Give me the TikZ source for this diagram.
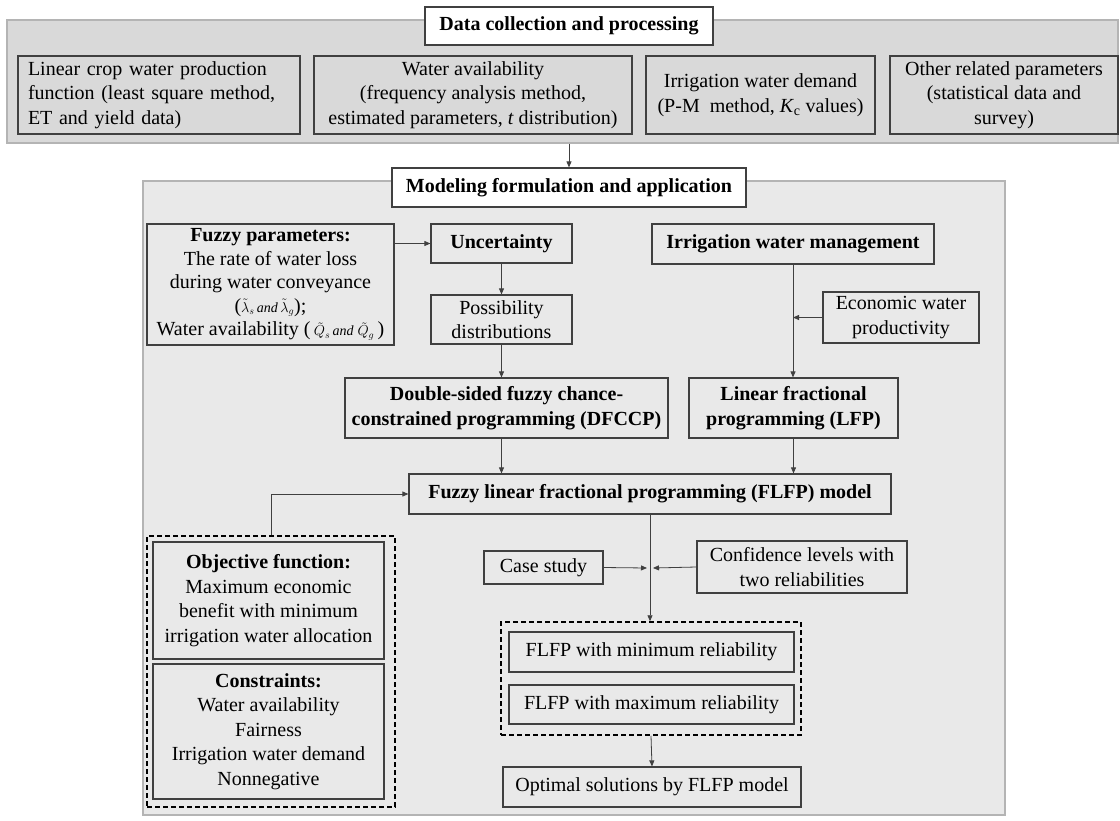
\documentclass[tikz,border=0pt]{standalone}
\usepackage{fontspec}
\setmainfont{Liberation Serif}
\usetikzlibrary{arrows.meta}
\definecolor{edge}{HTML}{404040}
\definecolor{rim}{HTML}{B4B4B4}
\definecolor{paneltop}{HTML}{D9D9D9}
\definecolor{panelbot}{HTML}{E9E9E9}
\begin{document}
\begin{tikzpicture}[x=1pt,y=-1pt,
    font=\fontsize{20}{24.5}\selectfont,
    box/.style 2 args={draw=edge,line width=1.2pt,minimum width=#1pt,minimum height=#2pt,inner sep=0pt,align=center},
    head/.style={font=\fontsize{20}{24.5}\selectfont\bfseries},
    grp/.style 2 args={draw=black,line width=1.5pt,dash pattern=on 5pt off 3pt,minimum width=#1pt,minimum height=#2pt,inner sep=0pt},
    panel/.style 2 args={draw=rim,line width=1.5pt,minimum width=#1pt,minimum height=#2pt,inner sep=0pt},
    arr/.style={-{Triangle[length=6pt,width=5pt]},draw=edge,line width=0.8pt}]
    \useasboundingbox (0,0) rectangle (1120,820);
    % panels
    \node[panel={1111}{123},fill=paneltop] (datapanel) at (562.5,81.5) {};
    \node[panel={862}{634},fill=panelbot] (modelpanel) at (574,498) {};
    % data collection
    \node[box={288}{38},fill=white,head] (datatitle) at (569,26) {Data collection and processing};
    \node[box={282}{78},text width=262pt,align=left] (cropfn) at (159,95)
        {Linear crop water production\\function (least square method,\\ET and yield data)};
    \node[box={318}{78}] (wateravail) at (473,95)
        {Water availability\\(frequency analysis method,\\estimated parameters, \textit{t} distribution)};
    \node[box={229}{78}] (irrdemand) at (760.5,95)
        {Irrigation water demand\\(P-M\ \ method, \textit{K}\textsubscript{c} values)};
    \node[box={228}{78}] (otherpar) at (1004,95)
        {Other related parameters\\(statistical data and\\survey)};
    % modeling
    \node[box={354}{39},fill=white,head] (modeltitle) at (569,187.5) {Modeling formulation and application};
    \node[box={247}{121},font=\fontsize{20}{23.5}\selectfont] (fuzzypar) at (270.5,284.5)
        {\textbf{Fuzzy parameters:}\\The rate of water loss\\during water conveyance\\
        ({\fontsize{14}{16}\selectfont$\tilde{\lambda}_s$\,\textit{and}\,$\tilde{\lambda}_g$});\\
        Water availability (\,{\fontsize{14}{16}\selectfont$\tilde{Q}_s$\,\textit{and}\;$\tilde{Q}_g$}\,)};
    \node[box={141}{39},head] (uncert) at (501.5,243.5) {Uncertainty};
    \node[box={141}{49}] (possdist) at (501.5,319.5) {Possibility\\distributions};
    \node[box={282}{40},head] (irrmgmt) at (793,244) {Irrigation water management};
    \node[box={156}{51}] (econprod) at (901,317.5) {Economic water\\productivity};
    \node[box={323}{60},head] (dfccp) at (506.5,408) {Double-sided fuzzy chance-\\constrained programming (DFCCP)};
    \node[box={209}{60},head] (lfp) at (793.5,408) {Linear fractional\\programming (LFP)};
    \node[box={482}{40},head] (flfp) at (650,494) {Fuzzy linear fractional programming (FLFP) model};
    % model parts
    \node[grp={248}{271}] (objgroup) at (271,671.5) {};
    \node[box={231}{117}] (objfn) at (268.5,600.5)
        {\textbf{Objective function:}\\Maximum economic\\benefit with minimum\\irrigation water allocation};
    \node[box={231}{135}] (constr) at (268.5,731.5)
        {\textbf{Constraints:}\\Water availability\\Fairness\\Irrigation water demand\\Nonnegative};
    % application
    \coordinate (jn) at (650,568);
    \node[box={119}{33}] (casestudy) at (543.5,567.5) {Case study};
    \node[box={210}{52}] (conflev) at (802,567) {Confidence levels with\\two reliabilities};
    \node[grp={300}{113}] (resgroup) at (651,678.5) {};
    \node[box={285}{40}] (minrel) at (651.5,652) {FLFP with minimum reliability};
    \node[box={285}{39}] (maxrel) at (651.5,704.5) {FLFP with maximum reliability};
    \node[box={298}{40}] (optsol) at (652,787) {Optimal solutions by FLFP model};
    % connectors
    \draw[arr] (modeltitle.north |- datapanel.south) -- (modeltitle.north);
    \draw[arr] (fuzzypar.east |- uncert.west) -- (uncert.west);
    \draw[arr] (uncert.south) -- (possdist.north);
    \draw[arr] (possdist.south) -- (possdist.south |- dfccp.north);
    \draw[arr] (irrmgmt.south) -- (irrmgmt.south |- lfp.north);
    \draw[arr] (econprod.west) -- (econprod.west -| irrmgmt.south);
    \draw[arr] (dfccp.south -| possdist.south) -- (flfp.north -| possdist.south);
    \draw[arr] (lfp.south) -- (lfp.south |- flfp.north);
    \draw[arr] (objgroup.north) |- (flfp.west);
    \draw[arr] (flfp.south -| jn) -- (resgroup.north -| jn);
    \draw[arr] (casestudy.east) -- ([xshift=-3pt]jn);
    \draw[arr] (conflev.west) -- ([xshift=3pt]jn);
    \draw[arr] (resgroup.south) -- (optsol.north);
\end{tikzpicture}
\end{document}
